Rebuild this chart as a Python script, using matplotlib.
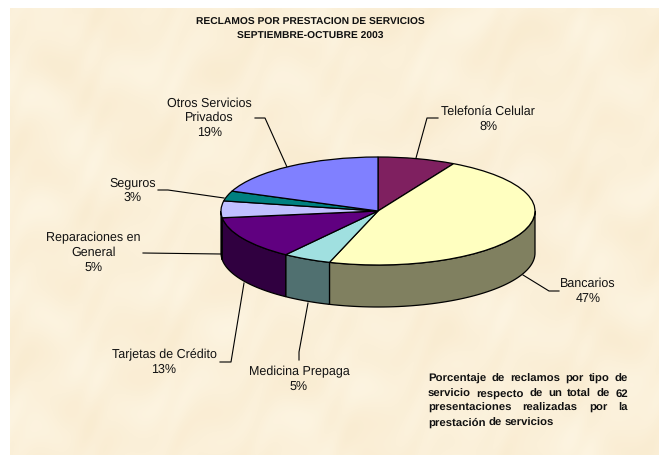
import numpy as np
import matplotlib
matplotlib.use('Agg')
import matplotlib.pyplot as plt

plt.rcParams['font.family'] = ['Liberation Sans', 'DejaVu Sans']
plt.rcParams['text.hinting'] = 'no_hinting'

# slices, clockwise from the top of the pie
categories = ['Telefonía Celular', 'Bancarios', 'Medicina Prepaga', 'Tarjetas de Crédito',
              'Reparaciones en\nGeneral', 'Seguros', 'Otros Servicios\nPrivados']
values = [8, 47, 5, 13, 5, 3, 19]
top_colors = ['#7f2060', '#ffffc0', '#a0e0e0', '#600080', '#c0c0ff', '#008080', '#8080ff']
side_colors = ['#401030', '#808060', '#507070', '#300040', '#606080', '#004040', '#404080']

title_lines = ['RECLAMOS POR PRESTACION DE SERVICIOS', 'SEPTIEMBRE-OCTUBRE 2003']
note_lines = ['Porcentaje de reclamos por tipo de',
              'servicio respecto de un total de 62',
              'presentaciones realizadas por la',
              'prestación de servicios']

W, H = 663, 455
fig = plt.figure(figsize=(W / 100, H / 100), dpi=100, facecolor='white')

# full figure axes in pixels, for background, leaders and text
bg = fig.add_axes([0, 0, 1, 1])
bg.set_xlim(0, W)
bg.set_ylim(H, 0)
bg.axis('off')

# parchment mottling
yy, xx = np.mgrid[0:H - 8, 0:W - 14]
tex = (np.sin(xx / 23.0 + np.sin(yy / 31.0) * 2) + np.sin(yy / 17.0 + np.cos(xx / 41.0) * 3)
       + 0.7 * np.sin((xx + yy) / 9.0 + np.sin(xx / 13.0) * 2)) / 2.7
base = np.array([251, 240, 217]) / 255
img = np.clip(base[None, None, :] + tex[..., None] * np.array([0.006, 0.016, 0.03]), 0, 1)
bg.imshow(img, extent=(10, 659, 455, 8), aspect='auto', zorder=0)
bg.set_xlim(0, W)
bg.set_ylim(H, 0)

# pie: centre (377, 211), radii 157 x 54, wall 42 px deep
cx, cy, rx, ry, depth = 378, 211, 157, 54, 42 / 54
x0, x1, y0, y1 = -1.2, 1.2, -2.0, 1.2
left = (cx + x0 * rx) / W
bottom = 1 - (cy - y0 * ry) / H
pie_ax = fig.add_axes([left, bottom, (x1 - x0) * rx / W, (y1 - y0) * ry / H])
pie_ax.patch.set_alpha(0)

# walls, only the front half of the rim shows
edges = np.cumsum([0] + values) * 3.6
for a, b, c in zip(edges[:-1], edges[1:], side_colors):
    a, b = max(a, 90), min(b, 270)
    if b <= a:
        continue
    t = np.radians(np.linspace(a, b, 60))
    px = np.r_[np.sin(t), np.sin(t)[::-1]]
    py = np.r_[np.cos(t), np.cos(t)[::-1] - depth]
    pie_ax.fill(px, py, facecolor=c, edgecolor='black', linewidth=0.9, zorder=1)

wedges, _ = pie_ax.pie(values, colors=top_colors, startangle=90, counterclock=False,
                       wedgeprops=dict(edgecolor='black', linewidth=0.9, zorder=2))
pie_ax.set_aspect('auto')
pie_ax.set_xlim(x0, x1)
pie_ax.set_ylim(y0, y1)
pie_ax.axis('off')

# leader lines
leaders = [
    [(416, 158), (427, 118), (438, 118)],
    [(523, 275), (549, 291), (559, 291)],
    [(308, 303), (299, 352), (299, 360)],
    [(244, 283), (231, 362), (220, 362)],
    [(221, 254), (143, 253)],
    [(224, 198), (168, 190), (158, 190)],
    [(287, 167), (265, 118), (255, 118)],
]
for pts in leaders:
    bg.plot([p[0] for p in pts], [p[1] for p in pts], color='black', lw=0.8, zorder=1)

# slice labels
label_pos = [(488, 119), (588, 291), (299, 379), (164, 362), (93.5, 253), (133, 190), (209.5, 118)]
for name, v, (lx, ly) in zip(categories, values, label_pos):
    bg.text(lx, ly, f'{name}\n{v}%', ha='center', va='center', fontsize=9.0,
            color='#111111', linespacing=1.3, zorder=3)

for line, y in zip(title_lines, [22, 36]):
    bg.text(310, y, line, ha='center', va='center', fontsize=7.35, fontweight='bold', color='#111111')

# justified note, words spread between x=428 and x=628
renderer = fig.canvas.get_renderer()
note_y = [382, 397, 411, 426]
for i, (line, y) in enumerate(zip(note_lines, note_y)):
    words = line.split()
    items = [bg.text(0, y, w, ha='left', va='baseline', fontsize=8.2, fontweight='bold', color='#111111')
             for w in words]
    widths = [t.get_window_extent(renderer).width for t in items]
    if i < len(note_lines) - 1:
        gap = (628 - 428 - sum(widths)) / (len(words) - 1)
    else:
        gap = 3.1
    pos = 428
    for t, w in zip(items, widths):
        t.set_x(pos)
        pos += w + gap

fig.savefig('out.png', dpi=100)
